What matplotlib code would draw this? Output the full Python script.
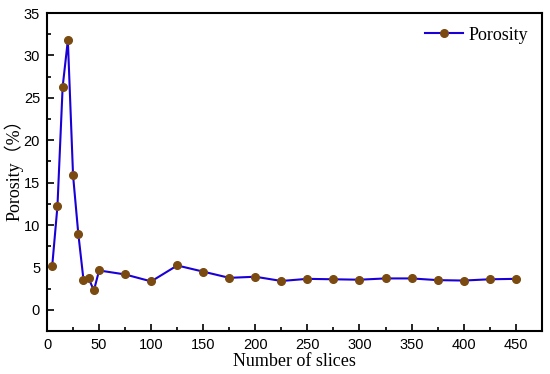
import matplotlib
matplotlib.use('Agg')
import matplotlib.pyplot as plt
from matplotlib.ticker import MultipleLocator

plt.rc('font', family='Liberation Sans', size=10.5)

slices = [5, 10, 15, 20, 25, 30, 35, 40, 45, 50, 75, 100, 125, 150, 175,
          200, 225, 250, 275, 300, 325, 350, 375, 400, 425, 450]
porosity = [5.2, 12.2, 26.3, 31.8, 15.85, 9.0, 3.55, 3.7, 2.28, 4.64, 4.17,
            3.35, 5.23, 4.5, 3.77, 3.9, 3.4, 3.65, 3.6, 3.55, 3.7, 3.7,
            3.5, 3.45, 3.6, 3.65]

fig = plt.figure(figsize=(5.5, 3.74), dpi=100)
ax = fig.add_axes([0.0855, 0.115, 0.8995, 0.85])

ax.plot(slices, porosity, color='#1a00d6', lw=1.5, marker='o',
        markersize=5.5, markerfacecolor='#7a4a10', markeredgecolor='#7a4a10',
        label='Porosity')

ax.set_xlim(0, 475)
ax.set_ylim(-2.5, 35)
ax.xaxis.set_major_locator(MultipleLocator(50))
ax.xaxis.set_minor_locator(MultipleLocator(25))
ax.yaxis.set_major_locator(MultipleLocator(5))
ax.yaxis.set_minor_locator(MultipleLocator(2.5))
ax.tick_params(which='both', direction='in', top=False, right=False, width=1.2)
ax.tick_params(which='major', length=5, pad=5)
ax.tick_params(which='minor', length=3)
for s in ax.spines.values():
    s.set_linewidth(1.5)

serif = ['Liberation Serif', 'Noto Sans CJK SC']
ax.set_xlabel('Number of slices', family=serif, fontsize=13, labelpad=1)
ax.set_ylabel('Porosity（%）', family=serif, fontsize=13)
ax.yaxis.set_label_coords(-0.047, 0.52)

ax.legend(loc='upper right', frameon=False, prop={'family': 'Liberation Serif', 'size': 13},
          handlelength=2.1, handletextpad=0.3, borderaxespad=0.35)

fig.savefig('out.png', dpi=100)
